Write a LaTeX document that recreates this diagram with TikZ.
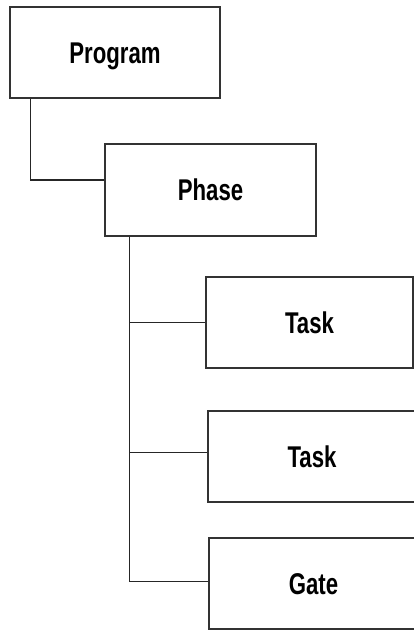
\documentclass[tikz,border=0pt]{standalone}
\usepackage{fontspec}
\setmainfont{Liberation Sans}[FakeStretch=0.74]
\begin{document}
\begin{tikzpicture}[x=1pt,y=-1pt,thick,
  box/.style={draw=black!80,line width=1.6pt,fill=white,minimum width=210pt,minimum height=91pt,
    inner sep=0pt,text height=21.5pt,text depth=0pt,font=\fontsize{30}{36}\selectfont\bfseries},
  link/.style={draw=black!85,line width=1.1pt}]
\useasboundingbox (0,0) rectangle (414,631);
\coordinate (P) at (115,52.5);
\coordinate (H) at (210.5,190);
\coordinate (T1) at (309.5,322.5);
\coordinate (T2) at (312,456.5);
\coordinate (G) at (313.5,583.5);
\node[box] (prog) at (P) {Program};
\node[box,minimum width=211pt,minimum height=92pt] (phase) at (H) {Phase};
\node[box,minimum width=207pt] (task1) at (T1) {Task};
\node[box,minimum width=208pt] (task2) at (T2) {Task};
\node[box,minimum width=209pt] (gate) at (G) {Gate};
\draw[link] ([xshift=21pt]prog.south west) |- ([yshift=10pt]phase.west);
\draw[link] ([xshift=25pt]phase.south west) |- ([yshift=2pt]gate.west);
\draw[link] ([xshift=25pt]phase.south west) |- (task1.west);
\draw[link] ([xshift=25pt]phase.south west) |- ([yshift=4pt]task2.west);
\end{tikzpicture}
\end{document}
